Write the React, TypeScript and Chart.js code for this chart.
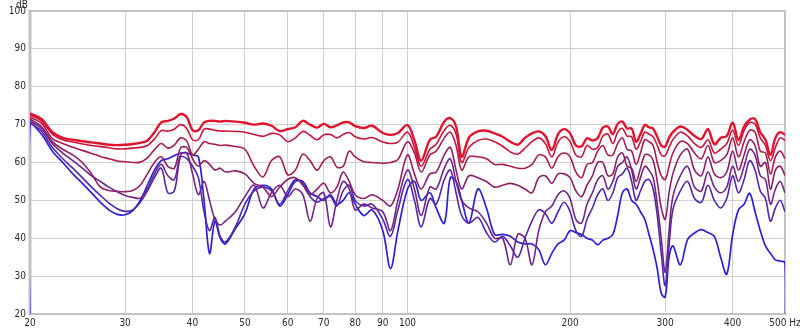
import React, { useEffect, useRef } from 'react';
import { Chart, registerables } from 'chart.js';

Chart.register(...registerables);

// Frequency grid (Hz)
const FREQS = [
  20, 21, 22, 23, 24, 25, 26, 27, 28, 29, 30, 31, 32, 33, 34, 35, 36, 37, 38, 39, 40, 41, 42, 43, 44, 45, 46,
  48, 50, 52, 54, 56, 58, 60, 62, 64, 66, 68, 70, 72, 74, 76, 78, 80,
  83, 86, 90, 93, 96,
  100, 103, 106, 110, 113, 117, 120, 123, 126, 130,
  135, 140, 145, 150,
  155, 160, 165, 170, 175, 180, 185, 190, 195, 200, 205, 210, 215, 220, 225, 230, 235, 240, 245, 250, 255, 260, 265, 270, 275, 280, 285, 290, 295, 300,
  305, 310,
  320, 330, 340, 350, 360, 370, 380, 390, 400, 410, 420, 430, 440, 450, 460, 470, 480, 490, 500,
];

// Series values (dB SPL)
const R1 = [
  73, 71.5, 68, 66.5, 66, 65.6, 65.3, 65, 64.7, 64.6, 64.7, 64.9, 65.2, 65.8, 68, 70.6, 71, 71.6, 72.8, 72, 68.5, 68.5, 70.6, 71, 71, 70.8, 71,
  70.8, 70.5, 70, 70.3, 69.7, 68.3, 68.8, 69.3, 71, 70, 69.2, 70.2, 69.3, 69.8, 70.6, 70.6, 69.6,
  69.1, 69.7, 67.8, 67.3, 67.8,
  69.9, 65.8, 60.5, 66, 66.8, 70.8, 71.7, 69.5, 61.5, 66.6,
  68.2, 68.4, 67.7, 66.8,
  65.5, 64.7, 66.5, 67.7, 68.2, 67, 63.3, 67.5, 68.8, 67.7, 64.5, 64.3, 66.4, 65.8, 66.5, 69.2, 69.5, 67.5, 70.2, 70.8, 69, 69, 65.5, 67.5, 69.9, 69.3, 68.9, 66.8, 64.5, 64.2,
  66.5, 68,
  69.5, 68.6, 67, 66.2, 68.8, 64.8, 66.5, 67, 70.5, 66, 69.5, 71.3, 71.5, 68, 66, 62, 66.5, 68, 67.3,
];
const R2 = [
  72.6, 71, 67.5, 66, 65.4, 64.9, 64.5, 64.2, 63.9, 63.6, 63.6, 63.8, 64, 64.5, 66.2, 68.4, 68.3, 68.8, 70, 69, 66, 66, 68.8, 68.8, 68.5, 68.3, 68.3,
  68.2, 68, 67.4, 66.9, 67.7, 67.3, 65.5, 66.5, 68.2, 67.2, 66, 67.3, 67.4, 66.5, 67.4, 67.9, 66.8,
  66.2, 66.6, 65.4, 65, 65.4,
  68, 64, 59, 63.5, 64.8, 68.5, 69.8, 67.5, 60, 64,
  65.8, 66.2, 65.5, 64.3,
  62.8, 62.2, 63.8, 65.5, 66.5, 65, 61.5, 65.4, 66.8, 65.5, 62, 61.5, 64.5, 63.5, 64, 67, 67.5, 65, 68, 69, 67, 66.8, 63.5, 65.5, 68, 67.5, 66.8, 64.5, 62, 61.8,
  64, 66,
  68, 67, 65, 64, 66, 62.5, 63.5, 65, 68.5, 64.5, 68.5, 70.5, 70.2, 66.5, 64.5, 60.5, 64, 66.5, 65.8,
];
const R3 = [
  72, 70.4, 66.3, 65, 64, 63.2, 62.4, 61.6, 61, 60.4, 60.2, 60, 60.1, 61.2, 63.4, 65, 63.8, 64.6, 66.5, 65.7, 62, 63.5, 65.5, 65, 64.8, 64.5, 64.6,
  64.2, 63.5, 59, 56.2, 60.5, 61.5, 56.8, 58, 62.2, 60.5, 58, 60.5, 61.5, 58.8, 59, 63, 61.5,
  60.2, 60, 59.8, 60, 60.8,
  65.5, 62.5, 57.5, 62, 63, 66.5, 68, 64.5, 58, 61.5,
  61.5, 61, 59.5, 59.5,
  59, 58.5, 58.5, 59.5, 62, 61.5, 58.5, 61.5, 62.5, 61.5, 57.5, 56, 59.5, 60, 63, 64.5, 62, 62, 65, 66.5, 63.5, 63, 59.5, 62.5, 66, 65.5, 64.5, 60, 56.5, 55.5,
  59, 62.5,
  65.5, 65, 62.5, 61, 64.5, 60, 60.5, 62, 66.5, 61.5, 65.5, 68.5, 68, 63, 62.5, 57, 61.5, 63, 61,
];
const R4 = [
  71.5, 69.5, 65.5, 63.5, 62, 60, 57, 53.5, 52.6, 52.4, 52.3, 52.6, 54, 57, 60, 61.5, 59, 58.5, 63.8, 64, 61, 59, 60.5, 59.5, 58, 58.5, 57.5,
  57.8, 57, 54.5, 53.5, 51, 53.5, 55.5, 56, 54, 51.5, 53, 54.5, 52, 53.5, 57.5, 55, 51.5,
  50.5, 51.5, 50, 48.5, 53,
  62, 57, 53, 57, 57.5, 62, 64, 58, 53, 56.5,
  56, 55, 53.5, 54,
  54.5, 54, 53, 52, 56, 56.5, 54.5, 57, 57, 56, 52.5, 51, 54, 56.5, 60, 60, 56.5, 57, 61.5, 62.5, 59, 58.5, 55, 58.5, 62, 62, 60.5, 55, 48, 45,
  52, 57,
  62, 63.5, 58, 56.5, 61.5, 57, 56, 57.5, 63, 58, 62, 66, 64.5, 59, 60, 53, 58, 59, 56.5,
];
const P5 = [
  71, 69, 65, 62.5, 60.5, 58.5, 56.5, 55, 53.5, 52.3, 51.3, 50.8, 50.6, 53, 57, 59.5, 56.5, 55.5, 62, 62.5, 57, 51.5, 55, 50, 45, 43.5, 44.5,
  47, 51, 54, 48, 52, 54, 51, 53, 51.5, 44.5, 50.5, 52, 43, 50, 55, 53, 47.5,
  49, 48, 47, 42, 50,
  58, 53, 46, 53.5, 53, 58.5, 61, 55, 50, 48,
  47, 44, 40, 40,
  33, 41, 40, 33, 42, 47, 48.5, 51.5, 52.5, 50.5, 45, 44, 49, 52, 55.5, 56.5, 53, 55, 59, 60, 61.5, 58, 53, 56, 59, 58, 56, 49, 40, 31,
  42, 51,
  56.5, 59, 53.5, 52.5, 57.5, 53.5, 52, 53.5, 59, 55, 59, 63.5, 62, 56.5, 55.5, 49, 53, 55, 52,
];
const B6 = [
  70.5, 68.3, 64, 61, 58.5, 56, 53.5, 51.3, 49.3, 47.8, 47.1, 47.5, 49.5, 52.5, 56, 58.5, 52, 52.5, 61.5, 61, 59, 56, 47, 42, 45.5, 40.5, 39,
  43, 49, 52.5, 53.5, 52.5, 49, 52.5, 55.5, 54.5, 51, 49.5, 50.5, 51, 48.5, 52.5, 54, 50,
  48.5, 49, 45, 40.5, 47.5,
  55.5, 50, 43, 50.5, 49, 55.5, 58, 52, 46, 44,
  45.5, 41.5, 39, 40.5,
  38, 35, 40, 44.5, 47.5, 46.5, 44, 47, 49.5, 47, 42, 40.5, 45, 48, 51.5, 53, 50, 52, 56, 57, 58.5, 55, 50, 52.5, 55, 55.5, 53, 46, 36, 27.5,
  38, 47.5,
  52.5, 55, 50.5, 49.5, 54, 50, 48, 50.5, 56.5, 52, 55.5, 60.5, 58, 52.5, 50.5, 44.5, 48, 50, 47,
];
const B7 = [
  70, 67.5, 63, 60, 57, 54.5, 52, 49.5, 47.5, 46.3, 46.2, 47.3, 50, 54, 58, 60.5, 61, 61.8, 62.5, 62.5, 62, 61.5, 50, 36, 44.5, 40, 38.5,
  42.5, 46.5, 53, 54, 53, 48.5, 51.5, 55, 55, 52, 51, 50, 51.5, 49, 50, 52, 49,
  46, 47.5, 42, 32, 42,
  53, 55, 50, 52, 48, 44, 56, 55, 50, 44,
  53, 48, 41, 41,
  40.5, 39, 38.5, 38.5, 37, 33, 36, 38.5, 39.5, 42, 41.5, 41, 40, 39.5, 38.3, 39.5, 40, 41, 46, 52, 53, 50, 49, 47, 45, 41, 37, 32, 25.5, 24.5,
  35, 38,
  33, 39.6, 41.4, 42.3, 41.5, 40.5, 35, 30.5, 41, 47.5, 49, 51.9, 47, 42, 38, 36, 34.3, 34, 33.5,
];
// The last trace starts and ends below the visible range (vertical edges)
const B7_EDGE_START = 10;
const B7_EDGE_END = 10;

const SERIES_NAMES = ['R1', 'R2', 'R3', 'R4', 'P5', 'B6', 'B7'];
const SERIES_VALUES = [R1, R2, R3, R4, P5, B6, B7];
const SERIES_COLORS = ['#e3122d', '#c8163f', '#a81c52', '#8c2068', '#712585', '#5127b0', '#2f1fd8'];
const SERIES_WIDTHS = [2.4, 1.6, 1.6, 1.6, 1.6, 1.6, 1.7];

const X_TICKS = [20, 30, 40, 50, 60, 70, 80, 90, 100, 200, 300, 400, 500];
const X_LABELS = ['20', '30', '40', '50', '60', '70', '80', '90', '100', '200', '300', '400', '500 Hz'];
const Y_MIN = 20;
const Y_MAX = 100;
const Y_STEP = 10;
const Y_UNIT = 'dB';

const FONT_FAMILY = "'Liberation Sans Narrow', 'DejaVu Sans Condensed', 'Liberation Sans', Arial, sans-serif";

export default function App() {
  const ref = useRef<HTMLCanvasElement>(null);

  useEffect(() => {
    const canvas = ref.current;
    if (!canvas) return;

    const datasets = SERIES_VALUES.map((vals, i) => {
      let pts = FREQS.map((f, j) => ({ x: f, y: vals[j] }));
      if (SERIES_NAMES[i] === 'B7') {
        pts = [{ x: FREQS[0], y: B7_EDGE_START }, ...pts, { x: FREQS[FREQS.length - 1], y: B7_EDGE_END }];
      }
      return {
        label: SERIES_NAMES[i],
        data: pts,
        borderColor: SERIES_COLORS[i],
        backgroundColor: SERIES_COLORS[i],
        borderWidth: SERIES_WIDTHS[i],
        pointRadius: 0,
        tension: 0.35,
        fill: false,
      };
    });

    const framePlugin = {
      id: 'frame',
      beforeDatasetsDraw(chart: any) {
        const { ctx, chartArea } = chart;
        const { left, right, top, bottom } = chartArea;
        ctx.save();
        ctx.strokeStyle = '#c2c2c2';
        ctx.lineWidth = 2;
        ctx.beginPath();
        ctx.moveTo(left, top);
        ctx.lineTo(right, top);
        ctx.lineTo(right, bottom);
        ctx.lineTo(left, bottom);
        ctx.stroke();
        ctx.lineWidth = 3;
        ctx.beginPath();
        ctx.moveTo(left, top - 1);
        ctx.lineTo(left, bottom + 1);
        ctx.stroke();
        ctx.restore();
      },
      afterDraw(chart: any) {
        const { ctx } = chart;
        ctx.save();
        ctx.fillStyle = '#2a2a2a';
        ctx.font = `10px ${FONT_FAMILY}`;
        ctx.textAlign = 'left';
        ctx.textBaseline = 'middle';
        ctx.fillText(Y_UNIT, 16, 5);
        ctx.restore();
      },
    };

    const chart = new Chart(canvas, {
      type: 'line',
      data: { datasets: datasets as any },
      options: {
        animation: false,
        responsive: false,
        maintainAspectRatio: false,
        layout: { padding: { top: 11, right: 15, left: 0, bottom: 0 } },
        plugins: { legend: { display: false }, tooltip: { enabled: false } },
        scales: {
          x: {
            type: 'logarithmic',
            min: X_TICKS[0],
            max: X_TICKS[X_TICKS.length - 1],
            afterBuildTicks: (scale: any) => {
              scale.ticks = X_TICKS.map((v) => ({ value: v }));
            },
            afterFit: (scale: any) => {
              scale.height = 16;
              scale.paddingLeft = 0;
              scale.paddingRight = 0;
            },
            ticks: {
              autoSkip: false,
              maxRotation: 0,
              minRotation: 0,
              padding: 3,
              color: '#2a2a2a',
              font: { family: FONT_FAMILY, size: 10 },
              callback: (value: any) => {
                const idx = X_TICKS.indexOf(Number(value));
                return idx >= 0 ? X_LABELS[idx] : '';
              },
            },
            grid: { color: '#d2d2d2', lineWidth: 1, drawTicks: false },
            border: { display: false },
          },
          y: {
            type: 'linear',
            min: Y_MIN,
            max: Y_MAX,
            afterFit: (scale: any) => {
              scale.width = 30;
              scale.paddingTop = 0;
              scale.paddingBottom = 0;
            },
            ticks: {
              stepSize: Y_STEP,
              padding: 4,
              color: '#2a2a2a',
              font: { family: FONT_FAMILY, size: 10 },
            },
            grid: { color: '#d2d2d2', lineWidth: 1, drawTicks: false },
            border: { display: false },
          },
        },
      },
      plugins: [framePlugin],
    });

    return () => chart.destroy();
  }, []);

  return (
    <div style={{ position: 'absolute', left: 0, top: 0, width: 800, height: 330, background: '#fff' }}>
      <canvas ref={ref} width={800} height={330} style={{ display: 'block' }} />
    </div>
  );
}
